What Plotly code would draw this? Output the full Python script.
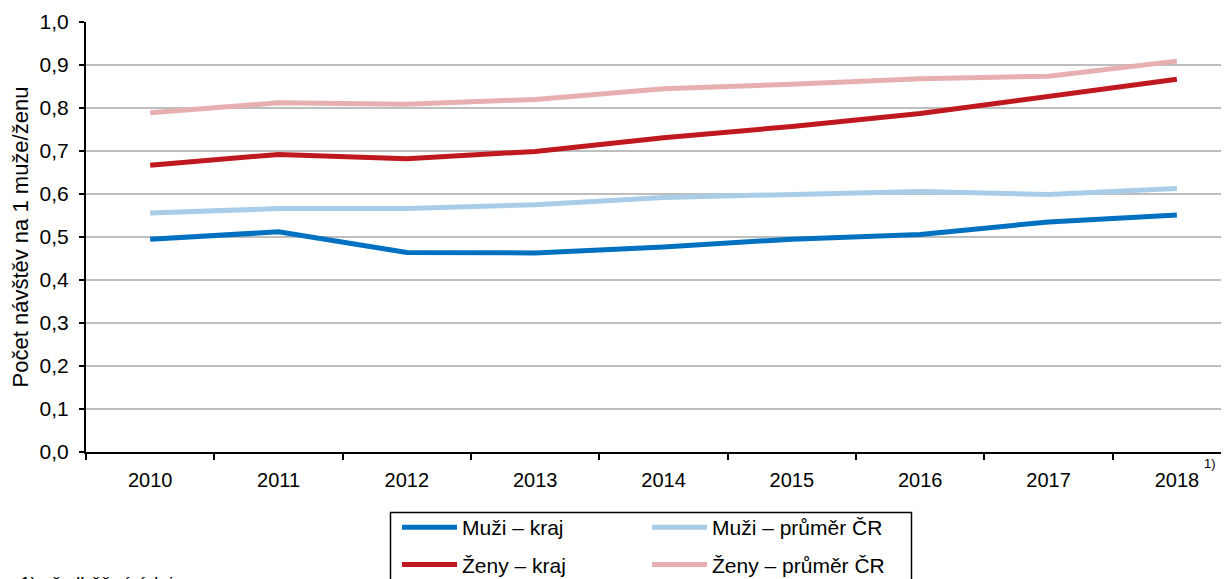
import plotly.graph_objects as go

years = ["2010", "2011", "2012", "2013", "2014", "2015", "2016", "2017", "2018"]
muzi_kraj = [0.495, 0.512, 0.464, 0.463, 0.477, 0.495, 0.506, 0.535, 0.551]
muzi_cr = [0.556, 0.566, 0.566, 0.575, 0.592, 0.599, 0.606, 0.599, 0.613]
zeny_kraj = [0.667, 0.692, 0.682, 0.699, 0.731, 0.757, 0.787, 0.827, 0.867]
zeny_cr = [0.789, 0.812, 0.809, 0.820, 0.845, 0.855, 0.868, 0.874, 0.909]

series = [
    ("Muži – kraj", muzi_kraj, "#0070C0", "legend"),
    ("Muži – průměr ČR", muzi_cr, "#A9CDE9", "legend2"),
    ("Ženy – kraj", zeny_kraj, "#C0181F", "legend"),
    ("Ženy – průměr ČR", zeny_cr, "#E8AFB1", "legend2"),
]

FONT = "Liberation Sans, Arial, sans-serif"
OFF = 8  # page body margin
W, H = 1229, 579
ML, MR, MT, MB = 78, 8, 14, 135
PW = W - ML - MR
PH = H - MT - MB

def px_x(p):  # screen px -> paper
    return (p - OFF - ML) / PW

def px_y(p):
    return (H - MB - (p - OFF)) / PH

fig = go.Figure()
for name, vals, color, lg in series:
    fig.add_trace(go.Scatter(
        x=years, y=vals, mode="lines", name=name,
        line=dict(color=color, width=5),
        legend=lg, legendgroup=name,
        hoverinfo="skip",
    ))

fig.update_layout(
    template="none",
    width=W, height=H,
    margin=dict(l=ML, r=MR, t=MT, b=MB, autoexpand=False),
    paper_bgcolor="white", plot_bgcolor="white",
    separators=", ",
    font=dict(family=FONT, size=20, color="black"),
    showlegend=True,
    xaxis=dict(
        type="category", range=[-0.5, 8.406], automargin=False,
        showline=True, linecolor="black", linewidth=2,
        ticks="outside", ticklen=6, tickwidth=1.5, tickcolor="black",
        tickson="boundaries", showgrid=False, zeroline=False,
        tickfont=dict(size=20), ticklabelstandoff=9,
    ),
    yaxis=dict(
        range=[0, 1.0], dtick=0.1, tick0=0, tickformat=".1f", automargin=False,
        showline=True, linecolor="black", linewidth=2,
        ticks="outside", ticklen=5, tickwidth=1.5, tickcolor="black",
        showgrid=True, gridcolor="#BEBEBE", gridwidth=1.5, zeroline=False,
        tickfont=dict(size=21), ticklabelstandoff=6,
        title=dict(text="Počet návštěv na 1 muže/ženu", font=dict(size=22), standoff=9),
    ),
    legend=dict(
        x=px_x(397), y=px_y(507), xanchor="left", yanchor="top",
        bgcolor="rgba(0,0,0,0)", borderwidth=0, font=dict(size=21),
        itemwidth=55, tracegroupgap=7, orientation="v",
    ),
    legend2=dict(
        x=px_x(647), y=px_y(507), xanchor="left", yanchor="top",
        bgcolor="rgba(0,0,0,0)", borderwidth=0, font=dict(size=21),
        itemwidth=55, tracegroupgap=7, orientation="v",
    ),
    shapes=[dict(
        type="rect", xref="paper", yref="paper",
        x0=px_x(390.5), x1=px_x(911.5), y0=px_y(512.5), y1=px_y(600),
        line=dict(color="black", width=1.5), fillcolor="rgba(0,0,0,0)",
    )],
    annotations=[
        dict(text="1)", xref="paper", yref="paper", x=px_x(1202), y=px_y(463),
             xanchor="left", yanchor="middle", showarrow=False, font=dict(size=13)),
        dict(text="1) předběžné údaje", xref="paper", yref="paper", x=px_x(18), y=px_y(571),
             xanchor="left", yanchor="top", showarrow=False, font=dict(size=19)),
    ],
)

fig.write_html("out.html")
